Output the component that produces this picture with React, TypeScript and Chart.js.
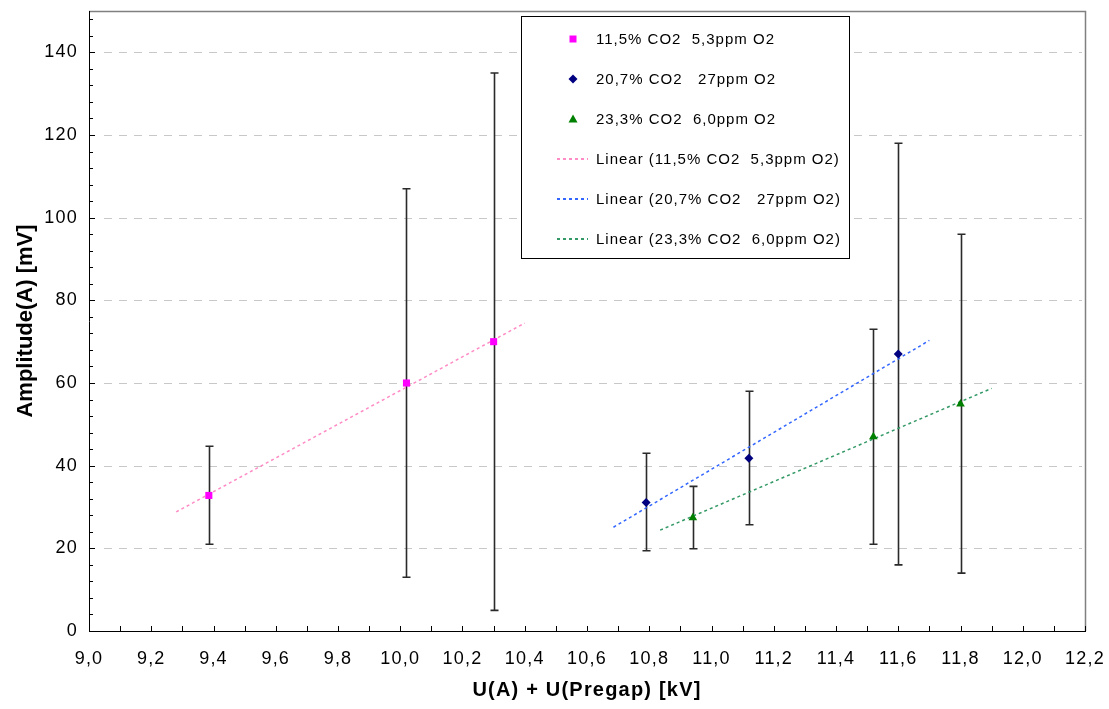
import React, { useEffect, useRef } from "react";
import { Chart, registerables } from "chart.js";

Chart.register(...registerables);

const FONT = '"Liberation Sans", Arial, Helvetica, sans-serif';

// ---------- data ----------
const pinkX = [9.385, 10.02, 10.3];
const pinkY = [32.8, 60.0, 70.0];
const pinkLow = [21.0, 13.0, 5.0];
const pinkHigh = [44.7, 107.0, 135.0];

const blueX = [10.79, 11.12, 11.6];
const blueY = [31.1, 41.8, 67.0];
const blueLow = [19.4, 25.7, 16.0];
const blueHigh = [43.0, 58.0, 118.0];

const greenX = [10.94, 11.52, 11.8];
const greenY = [27.4, 47.0, 54.9];
const greenLow = [19.9, 21.0, 14.0];
const greenHigh = [35.0, 73.0, 96.0];

const pinkTrendX = [9.28, 10.4];
const pinkTrendY = [28.8, 74.5];
const blueTrendX = [10.685, 11.7];
const blueTrendY = [25.1, 70.3];
const greenTrendX = [10.835, 11.9];
const greenTrendY = [24.4, 58.7];

const seriesLabels = [
  "11,5% CO2  5,3ppm O2",
  "20,7% CO2   27ppm O2",
  "23,3% CO2  6,0ppm O2",
];
const trendLabels = [
  "Linear (11,5% CO2  5,3ppm O2)",
  "Linear (20,7% CO2   27ppm O2)",
  "Linear (23,3% CO2  6,0ppm O2)",
];

const xTickValues = [9.0, 9.2, 9.4, 9.6, 9.8, 10.0, 10.2, 10.4, 10.6, 10.8, 11.0, 11.2, 11.4, 11.6, 11.8, 12.0, 12.2];
const xTickLabels = ["9,0", "9,2", "9,4", "9,6", "9,8", "10,0", "10,2", "10,4", "10,6", "10,8", "11,0", "11,2", "11,4", "11,6", "11,8", "12,0", "12,2"];
const yTickValues = [0, 20, 40, 60, 80, 100, 120, 140];
const yTickLabels = ["0", "20", "40", "60", "80", "100", "120", "140"];

const xTitle = "U(A) + U(Pregap) [kV]";
const yTitle = "Amplitude(A) [mV]";

const X_MIN = 9.0;
const X_MAX = 12.2;
const Y_MIN = 0;
const Y_MAX = 150;
const X_MINOR = 0.1;
const Y_MINOR = 4;

const PINK = "#ff00ff";
const NAVY = "#000080";
const GREEN = "#008000";
const PINK_T = "#ff8cc6";
const BLUE_T = "#3366ff";
const GREEN_T = "#339966";

const toPts = (xs: number[], ys: number[]) => xs.map((x, i) => ({ x, y: ys[i] }));

const errorSeries = [
  { xs: pinkX, lo: pinkLow, hi: pinkHigh },
  { xs: blueX, lo: blueLow, hi: blueHigh },
  { xs: greenX, lo: greenLow, hi: greenHigh },
];

function drawMarker(ctx: CanvasRenderingContext2D, kind: string, x: number, y: number, color: string) {
  ctx.save();
  ctx.fillStyle = color;
  ctx.beginPath();
  if (kind === "rect") {
    ctx.rect(x - 3.5, y - 3.5, 7, 7);
  } else if (kind === "diamond") {
    ctx.moveTo(x, y - 4.5);
    ctx.lineTo(x + 4.5, y);
    ctx.lineTo(x, y + 4.5);
    ctx.lineTo(x - 4.5, y);
    ctx.closePath();
  } else {
    ctx.moveTo(x, y - 4.5);
    ctx.lineTo(x + 4.5, y + 3.5);
    ctx.lineTo(x - 4.5, y + 3.5);
    ctx.closePath();
  }
  ctx.fill();
  ctx.restore();
}

const setSpacing = (ctx: any, v: string) => {
  if ("letterSpacing" in ctx) ctx.letterSpacing = v;
};

const decorPlugin = {
  id: "decor",
  beforeDraw(chart: any) {
    // the reference text is slightly stretched horizontally
    setSpacing(chart.ctx, "1.2px");
  },
  beforeDatasetsDraw(chart: any) {
    const { ctx, chartArea: a, scales } = chart;
    const x = scales.x;
    const y = scales.y;
    ctx.save();
    // dashed horizontal gridlines
    ctx.strokeStyle = "#c8c8c8";
    ctx.lineWidth = 1;
    ctx.setLineDash([8, 7]);
    for (const v of yTickValues) {
      if (v === Y_MIN) continue;
      const py = Math.round(y.getPixelForValue(v)) + 0.5;
      ctx.beginPath();
      ctx.moveTo(a.left + 15, py);
      ctx.lineTo(a.right - 3, py);
      ctx.stroke();
    }
    ctx.setLineDash([]);
    // top & right frame
    ctx.strokeStyle = "#808080";
    ctx.lineWidth = 1.5;
    ctx.beginPath();
    ctx.moveTo(a.left, a.top + 0.5);
    ctx.lineTo(a.right + 0.5, a.top + 0.5);
    ctx.lineTo(a.right + 0.5, a.bottom);
    ctx.stroke();
    // inward ticks
    ctx.strokeStyle = "#000";
    ctx.lineWidth = 1;
    for (let v = Y_MIN; v <= Y_MAX + 1e-9; v += Y_MINOR) {
      const py = Math.round(y.getPixelForValue(v)) + 0.5;
      const len = Math.abs(v % 20) < 1e-9 ? 6 : 4;
      ctx.beginPath();
      ctx.moveTo(a.left, py);
      ctx.lineTo(a.left + len, py);
      ctx.stroke();
    }
    const nx = Math.round((X_MAX - X_MIN) / X_MINOR);
    for (let i = 0; i <= nx; i++) {
      const px = Math.round(x.getPixelForValue(X_MIN + i * X_MINOR)) + 0.5;
      ctx.beginPath();
      ctx.moveTo(px, a.bottom);
      ctx.lineTo(px, a.bottom - 5);
      ctx.stroke();
    }
    // error bars
    ctx.strokeStyle = "#2a2a2a";
    ctx.lineWidth = 1.6;
    for (const s of errorSeries) {
      s.xs.forEach((xv, i) => {
        const px = Math.round(x.getPixelForValue(xv)) + 0.5;
        const pl = y.getPixelForValue(s.lo[i]);
        const ph = y.getPixelForValue(s.hi[i]);
        ctx.beginPath();
        ctx.moveTo(px, pl);
        ctx.lineTo(px, ph);
        ctx.moveTo(px - 4, pl);
        ctx.lineTo(px + 4, pl);
        ctx.moveTo(px - 4, ph);
        ctx.lineTo(px + 4, ph);
        ctx.stroke();
      });
    }
    ctx.restore();
  },
  afterDatasetsDraw(chart: any) {
    // y-axis title (drawn in a later layer) is not stretched along its length
    setSpacing(chart.ctx, "0px");
  },
  afterDraw(chart: any) {
    const { ctx } = chart;
    ctx.save();
    const bx = 521.5, by = 16.5, bw = 328, bh = 242;
    ctx.fillStyle = "#ffffff";
    ctx.fillRect(bx, by, bw, bh);
    ctx.strokeStyle = "#000";
    ctx.lineWidth = 1;
    ctx.strokeRect(bx, by, bw, bh);
    ctx.font = `15px ${FONT}`;
    setSpacing(ctx, "1px");
    ctx.textBaseline = "middle";
    ctx.textAlign = "left";
    const markers = [
      { kind: "rect", color: PINK },
      { kind: "diamond", color: NAVY },
      { kind: "triangle", color: GREEN },
    ];
    const trendColors = [PINK_T, BLUE_T, GREEN_T];
    const rowY = (i: number) => 39 + i * 40;
    seriesLabels.forEach((lab, i) => {
      drawMarker(ctx, markers[i].kind, 573, rowY(i), markers[i].color);
      ctx.fillStyle = "#000";
      ctx.fillText(lab, 596, rowY(i) + 1);
    });
    trendLabels.forEach((lab, i) => {
      const yy = rowY(i + 3);
      ctx.strokeStyle = trendColors[i];
      ctx.lineWidth = 2;
      ctx.setLineDash([3, 3]);
      ctx.beginPath();
      ctx.moveTo(557, yy);
      ctx.lineTo(588, yy);
      ctx.stroke();
      ctx.setLineDash([]);
      ctx.fillStyle = "#000";
      ctx.fillText(lab, 596, yy + 1);
    });
    setSpacing(ctx, "0px");
    ctx.restore();
  },
};

const zeroPad = (s: any) => {
  s.paddingTop = 0;
  s.paddingBottom = 0;
  s.paddingLeft = 0;
  s.paddingRight = 0;
};

export default function App() {
  const ref = useRef<HTMLCanvasElement | null>(null);
  useEffect(() => {
    if (!ref.current) return;
    const trend = (xs: number[], ys: number[], color: string, label: string) => ({
      label,
      data: toPts(xs, ys),
      showLine: true,
      borderColor: color,
      borderWidth: 1.5,
      borderDash: [3, 3],
      pointRadius: 0,
      fill: false,
      order: 2,
    });
    const chart = new Chart(ref.current, {
      type: "scatter",
      data: {
        datasets: [
          trend(pinkTrendX, pinkTrendY, PINK_T, trendLabels[0]),
          trend(blueTrendX, blueTrendY, BLUE_T, trendLabels[1]),
          trend(greenTrendX, greenTrendY, GREEN_T, trendLabels[2]),
          {
            label: seriesLabels[0],
            data: toPts(pinkX, pinkY),
            pointStyle: "rect",
            pointRadius: 5,
            backgroundColor: PINK,
            borderColor: PINK,
            borderWidth: 0,
            order: 1,
          },
          {
            label: seriesLabels[1],
            data: toPts(blueX, blueY),
            pointStyle: "rectRot",
            pointRadius: 4.5,
            backgroundColor: NAVY,
            borderColor: NAVY,
            borderWidth: 0,
            order: 1,
          },
          {
            label: seriesLabels[2],
            data: toPts(greenX, greenY),
            pointStyle: "triangle",
            pointRadius: 5,
            backgroundColor: GREEN,
            borderColor: GREEN,
            borderWidth: 0,
            order: 1,
          },
        ],
      },
      options: {
        animation: false,
        responsive: false,
        devicePixelRatio: 1,
        layout: { padding: { top: 11, right: 24, left: 0, bottom: 0 } },
        plugins: { legend: { display: false }, tooltip: { enabled: false } },
        scales: {
          x: {
            type: "linear",
            min: X_MIN,
            max: X_MAX,
            afterBuildTicks: (s: any) => {
              s.ticks = xTickValues.map((v) => ({ value: v }));
            },
            afterFit: (s: any) => {
              s.height = 78;
              zeroPad(s);
            },
            grid: { display: false, drawTicks: false },
            border: { display: true, color: "#000", width: 1 },
            ticks: {
              autoSkip: false,
              maxRotation: 0,
              padding: 17,
              color: "#000",
              font: { family: FONT, size: 18 },
              callback: (_v: any, i: number) => xTickLabels[i],
            },
            title: {
              display: true,
              text: xTitle,
              color: "#000",
              font: { family: FONT, size: 20, weight: "bold" },
              padding: { top: 0, bottom: 7 },
            },
          },
          y: {
            type: "linear",
            min: Y_MIN,
            max: Y_MAX,
            afterBuildTicks: (s: any) => {
              s.ticks = yTickValues.map((v) => ({ value: v }));
            },
            afterFit: (s: any) => {
              s.width = 89;
              zeroPad(s);
            },
            grid: { display: false, drawTicks: false, z: 1 },
            border: { display: true, color: "#000", width: 1, z: 1 },
            ticks: {
              autoSkip: false,
              padding: 11,
              color: "#000",
              font: { family: FONT, size: 18 },
              callback: (_v: any, i: number) => yTickLabels[i],
            },
            title: {
              display: true,
              text: yTitle,
              color: "#000",
              font: { family: FONT, size: 22, weight: "bold" },
              padding: { top: 13, bottom: 0 },
            },
          },
        },
      },
      plugins: [decorPlugin],
    } as any);
    return () => chart.destroy();
  }, []);
  return (
    <div style={{ position: "fixed", left: 0, top: 0, width: 1109, height: 709, background: "#fff" }}>
      <canvas ref={ref} width={1109} height={709} style={{ width: 1109, height: 709, display: "block" }} />
    </div>
  );
}
